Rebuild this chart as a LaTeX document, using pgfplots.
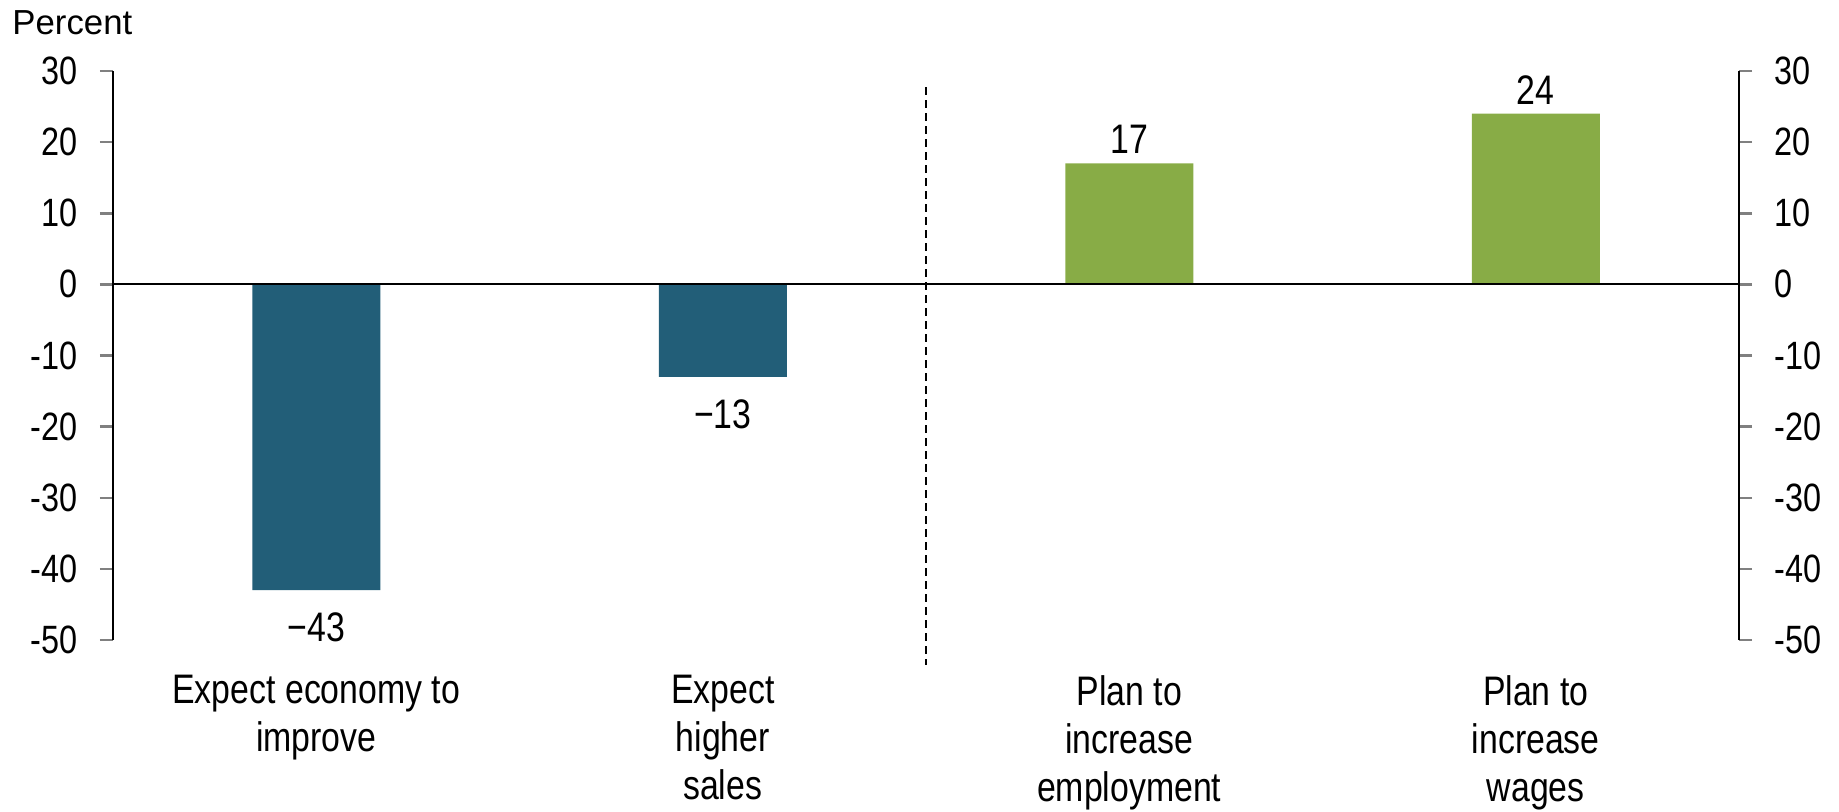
\documentclass[border=0pt]{standalone}
\usepackage{pgfplots}
\pgfplotsset{compat=1.18}
\usepackage{fontspec}
\setmainfont{Liberation Sans}
\newfontfamily\narrowfont[FakeStretch=0.82]{Liberation Sans}
\definecolor{barblue}{RGB}{34,94,120}
\definecolor{bargreen}{RGB}{136,172,70}
\newcommand{\catfont}{\narrowfont\fontsize{16.5pt}{19.2pt}\selectfont}
\newcommand{\tickfont}{\narrowfont\fontsize{15.8pt}{19pt}\selectfont}
\begin{document}
\begin{tikzpicture}
\path[use as bounding box] (0,0) rectangle (735.6pt,324.4pt);
\node[anchor=base west,inner sep=0pt,font=\fontsize{13.9pt}{17pt}\selectfont] at (4.8pt,310.4pt) {Percent};
\begin{axis}[
  at={(45.2pt,68.4pt)}, anchor=south west,
  scale only axis, width=650.4pt, height=227.6pt,
  xmin=-0.5, xmax=3.5, ymin=-50, ymax=30,
  axis y line*=left, axis x line*=bottom,
  x axis line style={draw=none},
  y axis line style={line width=1pt},
  ytick={-50,-40,...,30},
  xtick={0,1,2,3},
  xticklabels={{Expect economy to\\improve},{Expect\\higher\\sales},{Plan to\\increase\\employment},{Plan to\\increase\\wages}},
  xtick style={draw=none},
  xticklabel style={align=center,font=\catfont,yshift=-5.5pt},
  yticklabel style={font=\tickfont,xshift=-5.6pt},
  ytick style={line width=1pt},
  tick align=outside, major tick length=5.2pt,
  /pgf/number format/assume math mode=true,
  clip=false,
  ybar, bar width=51.2pt, bar shift=0pt,
  nodes near coords, point meta=explicit symbolic,
  every node near coord/.append style={font=\catfont,inner sep=0pt},
]
\addplot[draw=none, fill=barblue, nodes near coords align={anchor=north,yshift=-8.8pt}] coordinates {(0,-43) [−43] (1,-13) [−13]};
\addplot[draw=none, fill=bargreen, nodes near coords align={anchor=south,yshift=3.6pt}] coordinates {(2,17) [17] (3,24) [24]};
\draw[line width=0.8pt] (axis cs:-0.5,0) -- (axis cs:3.5,0);
\draw[line width=0.8pt, dash pattern=on 3.2pt off 2pt] (axis cs:1.5,27.75) -- (axis cs:1.5,-53.5);
\end{axis}
\begin{axis}[
  at={(45.2pt,68.4pt)}, anchor=south west,
  scale only axis, width=650.4pt, height=227.6pt,
  xmin=-0.5, xmax=3.5, ymin=-50, ymax=30,
  axis y line*=right, hide x axis,
  y axis line style={line width=1pt},
  ytick={-50,-40,...,30},
  yticklabel style={font=\tickfont,xshift=5.6pt},
  ytick style={line width=1pt},
  tick align=outside, major tick length=5.2pt,
  /pgf/number format/assume math mode=true,
]
\addplot[draw=none] coordinates {(0,0)};
\end{axis}
\end{tikzpicture}
\end{document}
